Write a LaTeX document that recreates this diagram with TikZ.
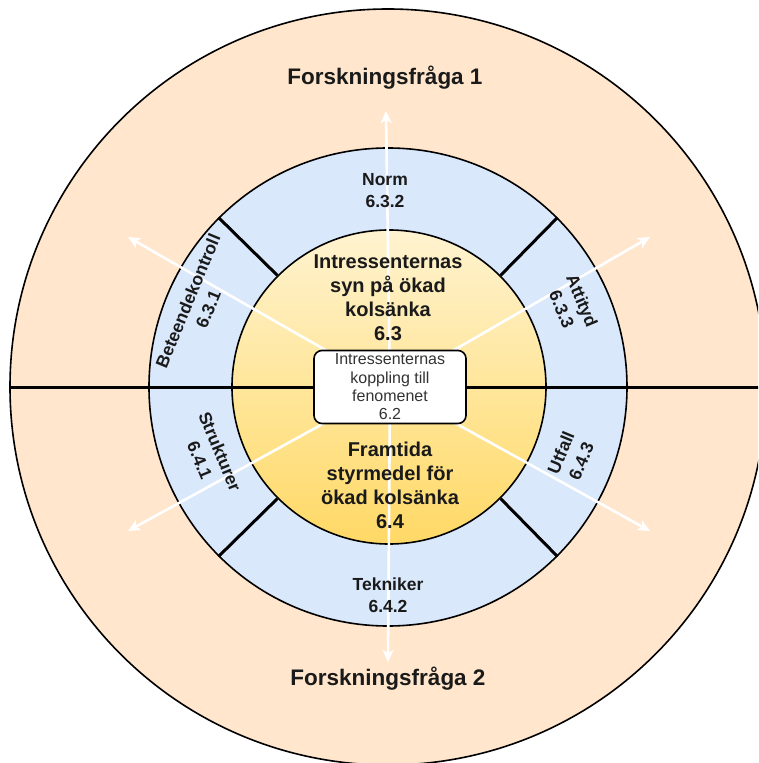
\documentclass[tikz,border=0pt]{standalone}
\usepackage{fontspec}
\setmainfont{Liberation Sans}
\usetikzlibrary{arrows.meta}
\definecolor{peach}{HTML}{FFE6CC}
\definecolor{lblue}{HTML}{DAE8FC}
\definecolor{ytop}{HTML}{FFF3D0}
\definecolor{ybot}{HTML}{FFD966}
\definecolor{txt}{HTML}{1A1A1A}
\definecolor{boxt}{HTML}{333333}
\tikzset{
  ring/.style={circle, draw=black, line width=1.6pt, inner sep=0pt},
  divider/.style={line width=3pt, line cap=butt},
  whitearrow/.style={draw=white, line width=2.6pt, -{Stealth[length=12pt,width=11pt,inset=3pt]}},
  titletxt/.style={font=\bfseries\fontsize{22.5}{27}\selectfont, text=txt},
  coretxt/.style={font=\bfseries\fontsize{20}{24}\selectfont, text=txt, align=center},
  seglabel/.style={font=\bfseries\fontsize{17.5}{22}\selectfont, text=txt, align=center, inner sep=0pt},
  boxtxt/.style={font=\fontsize{16}{18.3}\selectfont, text=boxt, align=center}
}
\begin{document}
\begin{tikzpicture}[x=1pt,y=1pt]
\useasboundingbox (-388,-376) rectangle (370,387);
\clip (-388,-376) rectangle (370,387);
\fill[white] (-388,-376) rectangle (370,387);

% rings
\node[ring, fill=peach, minimum size=756pt] (outer) at (0,0) {};
\node[ring, fill=lblue, minimum size=478pt] (mid) at (0,0) {};
\node[ring, top color=ytop, bottom color=ybot, minimum size=314pt] (core) at (1,0) {};

\coordinate (c) at (2,0);

% horizontal divider
\node[minimum width=152pt, minimum height=73pt, inner sep=0pt] (boxshape) at (2,0) {};
\draw[line width=3pt] (outer.west) -- (boxshape.west);
\draw[line width=3pt] (boxshape.east) -- (outer.east);

% segment dividers
\draw[divider] (core.45) -- (mid.45);
\draw[divider] (core.135) -- (mid.135);
\draw[divider] (core.225) -- (mid.225);
\draw[divider] (core.315) -- (mid.315);

% arrow tips
\coordinate (tN) at (-2,276);
\coordinate (tS) at (0,-275);
\coordinate (tNW) at (-260,150);
\coordinate (tNE) at (262,150);
\coordinate (tSW) at (-260,-144);
\coordinate (tSE) at (262,-144);
\foreach \t in {tN,tS,tNW,tNE,tSW,tSE}{
  \draw[whitearrow] (c) -- (\t);
}

% texts
\node[titletxt] (q1) at (-3,309) {Forskningsfråga 1};
\node[titletxt] (q2) at (0,-292) {Forskningsfråga 2};

\node[coretxt] (top) at (0,89.5) {Intressenternas\\syn på ökad\\kolsänka\\6.3};
\node[coretxt] (bot) at (2,-98.5) {Framtida\\styrmedel för\\ökad kolsänka\\6.4};

\node[seglabel] (norm) at (-3,196) {Norm\\6.3.2};
\node[seglabel] (tek) at (0,-208) {Tekniker\\6.4.2};
\node[seglabel, rotate=67.5] (bet) at (-190,82) {Beteendekontroll\\6.3.1};
\node[seglabel, rotate=-67.5] (att) at (184,82) {Attityd\\6.3.3};
\node[seglabel, rotate=-67.5] (str) at (-178,-69) {Strukturer\\6.4.1};
\node[seglabel, rotate=67.5] (utf) at (183,-70) {Utfall\\6.4.3};

% central box
\node[draw=black, fill=white, rounded corners=8pt, line width=1.6pt,
      minimum width=152pt, minimum height=73pt, inner sep=0pt, boxtxt] (box) at (2,0)
      {Intressenternas\\koppling till\\fenomenet\\6.2};
\end{tikzpicture}
\end{document}
